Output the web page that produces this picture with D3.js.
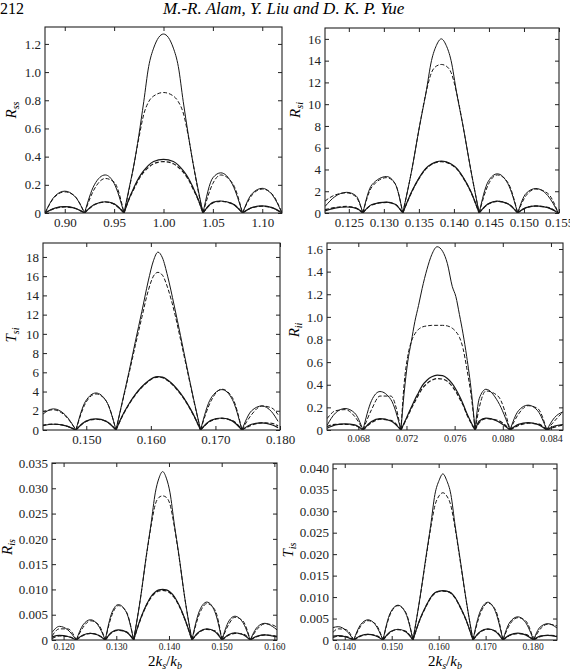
<!DOCTYPE html>
<html>
<head>
<meta charset="utf-8">
<script src="https://cdn.jsdelivr.net/npm/d3@7"></script>
<style>
  body { margin: 0; background: #fff; }
  svg { display: block; }
  svg text { font-family: "Liberation Serif", "Times New Roman", serif; }
</style>
</head>
<body>
<svg id="fig" width="570" height="671"></svg>
<script>
// ---- panel (a): R_ss ----
var ssX = [0.88, 0.89, 0.90, 0.91, 0.92, 0.93, 0.941, 0.95, 0.96, 0.965, 0.97, 0.975, 0.98, 0.985, 0.99, 1.00,
  1.01, 1.015, 1.02, 1.025, 1.03, 1.035, 1.04, 1.05, 1.058, 1.07, 1.08, 1.09, 1.10, 1.11, 1.12];
var ssSolid = [0, 0.12, 0.155, 0.12, 0, 0.2, 0.27, 0.21, 0, 0.17, 0.34, 0.55, 0.79, 1.04, 1.17, 1.27,
  1.17, 1.04, 0.79, 0.56, 0.35, 0.17, 0, 0.25, 0.285, 0.2, 0, 0.14, 0.175, 0.13, 0];
var ssDashed = [0, 0.115, 0.15, 0.12, 0, 0.17, 0.245, 0.22, 0, 0.16, 0.34, 0.53, 0.70, 0.79, 0.83, 0.855,
  0.83, 0.79, 0.71, 0.55, 0.35, 0.16, 0, 0.21, 0.27, 0.21, 0, 0.13, 0.17, 0.135, 0];
var ssSolidLow = [0, 0.035, 0.045, 0.035, 0, 0.06, 0.08, 0.065, 0, 0.1, 0.18, 0.25, 0.30, 0.34, 0.365, 0.38,
  0.365, 0.34, 0.30, 0.25, 0.18, 0.1, 0, 0.075, 0.085, 0.065, 0, 0.04, 0.05, 0.038, 0];
var ssDashedLow = [0, 0.033, 0.043, 0.034, 0, 0.058, 0.078, 0.063, 0, 0.096, 0.17, 0.24, 0.29, 0.325, 0.35, 0.365,
  0.35, 0.325, 0.29, 0.24, 0.17, 0.096, 0, 0.072, 0.083, 0.065, 0, 0.038, 0.048, 0.037, 0];
var ssXTicks = [0.90, 0.95, 1.00, 1.05, 1.10];
var ssYTicks = [0, 0.2, 0.4, 0.6, 0.8, 1.0, 1.2];

// ---- panel (b): R_si ----
var siX = [0.1216, 0.1230, 0.1247, 0.1260, 0.1270, 0.1283, 0.1304, 0.1316, 0.1327, 0.1340, 0.1351, 0.1360, 0.1368,
  0.1375, 0.1382, 0.1389, 0.1396, 0.1404, 0.1413, 0.1424, 0.1436, 0.1449, 0.1462, 0.1477, 0.1491, 0.1503, 0.1517,
  0.1534, 0.1549];
var siSolid = [0.6, 1.5, 1.9, 1.6, 0, 2.6, 3.35, 2.7, 0, 4, 8, 11, 14, 15.4, 16.0, 15.4, 14, 11, 8, 4, 0,
  2.9, 3.6, 2.7, 0, 1.8, 2.25, 1.6, 0];
var siDashed = [1.1, 1.65, 1.85, 1.5, 0, 2.4, 3.25, 2.7, 0, 4, 8, 11, 12.9, 13.5, 13.65, 13.5, 12.9, 11, 8, 4, 0,
  2.6, 3.5, 2.8, 0, 1.6, 2.2, 1.8, 0];
var siSolidLow = [0.2, 0.45, 0.55, 0.45, 0, 0.78, 1.0, 0.8, 0, 2.0, 3.3, 4.1, 4.5, 4.7, 4.78, 4.7, 4.5, 4.1, 3.3, 2.0, 0,
  0.85, 1.1, 0.85, 0, 0.5, 0.65, 0.5, 0];
var siDashedLow = [0.3, 0.5, 0.6, 0.45, 0, 0.75, 0.97, 0.8, 0, 1.95, 3.25, 4.05, 4.45, 4.65, 4.72, 4.65, 4.45, 4.05, 3.25,
  1.95, 0, 0.82, 1.07, 0.85, 0, 0.48, 0.63, 0.52, 0];
var siXTicks = [0.125, 0.130, 0.135, 0.140, 0.145, 0.150, 0.155];
var siYTicks = [0, 2, 4, 6, 8, 10, 12, 14, 16];

// ---- panel (c): T_si ----
var tsiX = [0.1432, 0.1449, 0.1467, 0.1484, 0.1499, 0.1515, 0.1531, 0.1546, 0.1556, 0.1566, 0.1576, 0.1586, 0.1596,
  0.1604, 0.1611, 0.1618, 0.1626, 0.1636, 0.1646, 0.1656, 0.1666, 0.1677, 0.1693, 0.1710, 0.1726, 0.1741, 0.1756,
  0.1772, 0.1787, 0.1797];
var tsiSolid = [1.6, 2.2, 1.6, 0, 3.0, 3.85, 3.0, 0, 3.0, 6.0, 9.2, 12.3, 15.5, 17.6, 18.5, 17.9, 16.0, 13.0, 9.8, 6.5,
  3.3, 0, 3.3, 4.2, 3.2, 0, 2.0, 2.5, 1.9, 0.9];
var tsiDashed = [1.9, 2.1, 1.5, 0, 2.8, 3.75, 3.0, 0, 2.9, 5.8, 8.8, 11.7, 14.5, 16.0, 16.4, 16.1, 14.8, 12.4, 9.4, 6.3,
  3.2, 0, 3.0, 4.25, 3.4, 0, 1.6, 2.5, 2.3, 1.6];
var tsiSolidLow = [0.45, 0.6, 0.45, 0, 0.9, 1.15, 0.9, 0, 1.5, 2.7, 3.7, 4.5, 5.1, 5.45, 5.55, 5.5, 5.2, 4.6, 3.8, 2.8,
  1.6, 0, 1.0, 1.25, 0.95, 0, 0.6, 0.75, 0.55, 0.25];
var tsiDashedLow = [0.5, 0.62, 0.45, 0, 0.87, 1.12, 0.9, 0, 1.45, 2.65, 3.65, 4.45, 5.05, 5.4, 5.5, 5.45, 5.15, 4.55,
  3.75, 2.75, 1.55, 0, 0.95, 1.2, 1.0, 0, 0.5, 0.75, 0.7, 0.45];
var tsiXTicks = [0.150, 0.160, 0.170, 0.180];
var tsiYTicks = [0, 2, 4, 6, 8, 10, 12, 14, 16, 18];

// ---- panel (d): R_ii ----
var iiX = [0.0654, 0.0661, 0.0669, 0.0677, 0.06839, 0.0691, 0.0698, 0.0707, 0.07154, 0.0718, 0.0721, 0.0724, 0.0727,
  0.0730, 0.0733, 0.0737, 0.0741, 0.07455, 0.0750, 0.0754, 0.0758, 0.0761, 0.0764, 0.0767, 0.0770, 0.0774, 0.0777,
  0.07805, 0.0786, 0.0796, 0.0806, 0.0813, 0.0821, 0.0829, 0.08365, 0.0843, 0.0850];
var iiSolid = [0.04, 0.15, 0.19, 0.15, 0, 0.26, 0.34, 0.27, 0, 0.32, 0.6, 0.78, 0.96, 1.1, 1.25, 1.42, 1.55, 1.62,
  1.58, 1.47, 1.27, 1.18, 1.02, 0.85, 0.65, 0.33, 0, 0.28, 0.36, 0.25, 0, 0.17, 0.22, 0.17, 0, 0.11, 0.16];
var iiDashed = [0.1, 0.17, 0.18, 0.12, 0, 0.18, 0.30, 0.3, 0, 0.4, 0.65, 0.78, 0.85, 0.89, 0.91, 0.92, 0.925, 0.925,
  0.925, 0.92, 0.9, 0.87, 0.82, 0.72, 0.55, 0.28, 0, 0.2, 0.345, 0.3, 0, 0.14, 0.215, 0.19, 0, 0.08, 0.16];
var iiSolidLow = [0.015, 0.045, 0.055, 0.045, 0, 0.075, 0.1, 0.08, 0, 0.06, 0.13, 0.2, 0.27, 0.33, 0.39, 0.44, 0.47,
  0.485, 0.48, 0.455, 0.41, 0.36, 0.3, 0.23, 0.15, 0.06, 0, 0.08, 0.105, 0.075, 0, 0.05, 0.065, 0.05, 0, 0.035, 0.048];
var iiDashedLow = [0.03, 0.05, 0.05, 0.04, 0, 0.065, 0.095, 0.085, 0, 0.055, 0.12, 0.19, 0.25, 0.31, 0.365, 0.41, 0.44,
  0.455, 0.45, 0.43, 0.385, 0.34, 0.28, 0.22, 0.14, 0.055, 0, 0.065, 0.1, 0.085, 0, 0.04, 0.06, 0.055, 0, 0.025, 0.045];
var iiXTicks = [0.068, 0.072, 0.076, 0.080, 0.084];
var iiYTicks = [0, 0.2, 0.4, 0.6, 0.8, 1.0, 1.2, 1.4, 1.6];

// ---- panel (e): R_is ----
var isX = [0.1178, 0.1192, 0.1208, 0.12241, 0.1237, 0.1251, 0.1265, 0.12791, 0.1292, 0.1304, 0.1319, 0.13329, 0.1346,
  0.1357, 0.1366, 0.1374, 0.1381, 0.1388, 0.1395, 0.1402, 0.1410, 0.1419, 0.1430, 0.14436, 0.1458, 0.1472, 0.1487,
  0.15005, 0.1514, 0.1525, 0.1540, 0.15542, 0.1568, 0.1582, 0.1596, 0.1605];
var isSolid = [0.0015, 0.0027, 0.002, 0, 0.003, 0.004, 0.003, 0, 0.0055, 0.007, 0.0055, 0, 0.0083, 0.0167, 0.023,
  0.0291, 0.032, 0.0333, 0.032, 0.0291, 0.023, 0.0167, 0.0083, 0, 0.0058, 0.0075, 0.0056, 0, 0.0038, 0.0047, 0.0035,
  0, 0.0026, 0.0033, 0.0027, 0.002];
var isDashed = [0.0008, 0.0022, 0.0022, 0, 0.0025, 0.0038, 0.0032, 0, 0.005, 0.0068, 0.0056, 0, 0.0083, 0.0165,
  0.0225, 0.0268, 0.0282, 0.0285, 0.0282, 0.0268, 0.0225, 0.0165, 0.0083, 0, 0.0052, 0.0072, 0.006, 0, 0.0032, 0.0045,
  0.0038, 0, 0.0022, 0.0032, 0.003, 0.0025];
var isSolidLow = [0.0006, 0.0009, 0.0007, 0, 0.001, 0.0013, 0.001, 0, 0.0016, 0.002, 0.0016, 0, 0.0042, 0.0069,
  0.0086, 0.0095, 0.0099, 0.010, 0.0099, 0.0095, 0.0086, 0.0069, 0.0042, 0, 0.0017, 0.0022, 0.0017, 0, 0.0011, 0.0014,
  0.0011, 0, 0.0008, 0.001, 0.0008, 0.0006];
var isDashedLow = [0.0003, 0.0008, 0.0007, 0, 0.0009, 0.0013, 0.001, 0, 0.0015, 0.0019, 0.0016, 0, 0.0041, 0.0068,
  0.0084, 0.0093, 0.0097, 0.0098, 0.0097, 0.0093, 0.0084, 0.0068, 0.0041, 0, 0.0016, 0.0021, 0.0018, 0, 0.001, 0.0013,
  0.0012, 0, 0.0007, 0.001, 0.0009, 0.0007];
var isXTicks = [0.120, 0.130, 0.140, 0.150, 0.160];
var isYTicks = [0, 0.005, 0.010, 0.015, 0.020, 0.025, 0.030, 0.035];

// ---- panel (f): T_is ----
var tisX = [0.1375, 0.1386, 0.1403, 0.14191, 0.1434, 0.14495, 0.1465, 0.14815, 0.1497, 0.15134, 0.1530, 0.15453,
  0.1560, 0.1573, 0.1583, 0.1592, 0.1601, 0.1609, 0.1617, 0.1626, 0.1635, 0.1645, 0.1658, 0.1673, 0.1689, 0.17049,
  0.1721, 0.17368, 0.1752, 0.17687, 0.1785, 0.18021, 0.1816, 0.18326, 0.1852];
var tisSolid = [0.0029, 0.0031, 0.0022, 0, 0.0036, 0.0047, 0.0036, 0, 0.0063, 0.0081, 0.0062, 0, 0.0097, 0.0194,
  0.0267, 0.0339, 0.0372, 0.0387, 0.0372, 0.0339, 0.0267, 0.0194, 0.0097, 0, 0.0068, 0.0088, 0.0066, 0, 0.0042, 0.0054,
  0.0041, 0, 0.003, 0.0038, 0.0028];
var tisDashed = [0.0018, 0.0026, 0.0024, 0, 0.0032, 0.0045, 0.0038, 0, 0.006, 0.008, 0.0064, 0, 0.0096, 0.019,
  0.026, 0.0313, 0.0336, 0.0343, 0.0336, 0.0313, 0.026, 0.019, 0.0096, 0, 0.0062, 0.0086, 0.007, 0, 0.0037, 0.0052,
  0.0045, 0, 0.0025, 0.0037, 0.0033];
var tisSolidLow = [0.0009, 0.001, 0.0007, 0, 0.001, 0.0013, 0.001, 0, 0.0019, 0.0025, 0.0019, 0, 0.0048, 0.0079,
  0.0099, 0.011, 0.0114, 0.0115, 0.0114, 0.011, 0.0099, 0.0079, 0.0048, 0, 0.002, 0.0026, 0.002, 0, 0.0012, 0.0016,
  0.0012, 0, 0.0009, 0.0011, 0.0008];
var tisDashedLow = [0.0006, 0.0009, 0.0008, 0, 0.0009, 0.0013, 0.0011, 0, 0.0018, 0.0024, 0.002, 0, 0.0047, 0.0078,
  0.0098, 0.0109, 0.0113, 0.0114, 0.0113, 0.0109, 0.0098, 0.0078, 0.0047, 0, 0.0019, 0.0025, 0.0021, 0, 0.0011, 0.0015,
  0.0013, 0, 0.0008, 0.0011, 0.001];
var tisXTicks = [0.140, 0.150, 0.160, 0.170, 0.180];
var tisYTicks = [0, 0.005, 0.010, 0.015, 0.020, 0.025, 0.030, 0.035, 0.040];

// ---- layout ----
function fmt(n) { return function(d) { return d === 0 ? "0" : d.toFixed(n); }; }

var panels = [
  { id: "a", box: [45, 282, 27, 213], xDom: [0.88, 1.12], yDom: [0, 1.32], xs: ssX,
    ys: [ssSolid, ssDashed, ssSolidLow, ssDashedLow], xt: ssXTicks, yt: ssYTicks,
    xf: fmt(2), yf: fmt(1), xfs: 13, xpad: 5, sym: "R", sub: "ss", lab: [11, 110] },
  { id: "b", box: [325, 559, 28, 213], xDom: [0.1216, 0.155], yDom: [0, 17], xs: siX,
    ys: [siSolid, siDashed, siSolidLow, siDashedLow], xt: siXTicks, yt: siYTicks,
    xf: fmt(3), yf: fmt(0), xfs: 13, xpad: 5, sym: "R", sub: "si", lab: [295, 110] },
  { id: "c", box: [43, 280, 243, 430], xDom: [0.1433, 0.180], yDom: [0, 19.45], xs: tsiX,
    ys: [tsiSolid, tsiDashed, tsiSolidLow, tsiDashedLow], xt: tsiXTicks, yt: tsiYTicks,
    xf: fmt(3), yf: fmt(0), xfs: 13, xpad: 5, sym: "T", sub: "si", lab: [11, 335] },
  { id: "d", box: [327, 563, 243, 430], xDom: [0.0654, 0.0850], yDom: [0, 1.653], xs: iiX,
    ys: [iiSolid, iiDashed, iiSolidLow, iiDashedLow], xt: iiXTicks, yt: iiYTicks,
    xf: fmt(3), yf: fmt(1), xfs: 10, xpad: 5, sym: "R", sub: "ii", lab: [294, 330] },
  { id: "e", box: [52, 277, 463, 640], xDom: [0.1178, 0.1605], yDom: [0, 0.035], xs: isX,
    ys: [isSolid, isDashed, isSolidLow, isDashedLow], xt: isXTicks, yt: isYTicks,
    xf: fmt(3), yf: fmt(3), xfs: 9.5, xpad: 3, sym: "R", sub: "is", lab: [7, 547], xtitle: [165, 666] },
  { id: "f", box: [333, 557, 464, 640], xDom: [0.1375, 0.1852], yDom: [0, 0.041], xs: tisX,
    ys: [tisSolid, tisDashed, tisSolidLow, tisDashedLow], xt: tisXTicks, yt: tisYTicks,
    xf: fmt(3), yf: fmt(3), xfs: 9.5, xpad: 3, sym: "T", sub: "is", lab: [288, 550], xtitle: [445, 666] }
];

// solid, dashed, solid (low), dashed (low)
var styles = [
  { dash: null, w: 1.0 },
  { dash: "4,2", w: 1.0 },
  { dash: null, w: 1.2 },
  { dash: "4,2", w: 1.2 }
];

var svg = d3.select("#fig");
var serif = "'Liberation Serif', 'Times New Roman', serif";

// running head
svg.append("text").attr("x", 0).attr("y", 14).attr("font-size", 16).attr("font-family", serif).text("212");
svg.append("text").attr("x", 163).attr("y", 14).attr("font-size", 17).attr("font-style", "italic")
  .attr("font-family", serif).text("M.-R. Alam, Y. Liu and D. K. P. Yue");

// cut a series into lobes at its zeros so the cusps stay sharp
function lobes(pts) {
  var out = [], cur = [];
  pts.forEach(function(p) {
    cur.push(p);
    if (p[1] === 0 && cur.length > 1) { out.push(cur); cur = [p]; }
  });
  if (cur.length > 1) out.push(cur);
  return out;
}

panels.forEach(function(p) {
  var L = p.box[0], R = p.box[1], T = p.box[2], B = p.box[3];
  var x = d3.scaleLinear().domain(p.xDom).range([L, R]);
  var y = d3.scaleLinear().domain(p.yDom).range([B, T]);
  var g = svg.append("g");

  g.append("clipPath").attr("id", "clip-" + p.id)
    .append("rect").attr("x", L).attr("y", T).attr("width", R - L).attr("height", B - T);

  var line = d3.line().x(function(d) { return x(d[0]); }).y(function(d) { return y(d[1]); })
    .curve(d3.curveMonotoneX);

  var curves = g.append("g").attr("clip-path", "url(#clip-" + p.id + ")");
  p.ys.forEach(function(vals, i) {
    var pts = d3.zip(p.xs, vals);
    curves.append("path")
      .attr("d", lobes(pts).map(function(s) { return line(s); }).join(""))
      .attr("fill", "none")
      .attr("stroke", "#161616")
      .attr("stroke-width", styles[i].w)
      .attr("stroke-dasharray", styles[i].dash);
  });

  // axes, ticks pointing inward on all four sides
  var bottom = g.append("g").attr("transform", "translate(0," + B + ")")
    .call(d3.axisBottom(x).tickValues(p.xt).tickFormat(p.xf).tickSize(-4).tickSizeOuter(0).tickPadding(p.xpad));
  var left = g.append("g").attr("transform", "translate(" + L + ",0)")
    .call(d3.axisLeft(y).tickValues(p.yt).tickFormat(p.yf).tickSize(-4).tickSizeOuter(0).tickPadding(4));
  g.append("g").attr("transform", "translate(0," + T + ")")
    .call(d3.axisTop(x).tickValues(p.xt).tickFormat("").tickSize(-4).tickSizeOuter(0));
  g.append("g").attr("transform", "translate(" + R + ",0)")
    .call(d3.axisRight(y).tickValues(p.yt).tickFormat("").tickSize(-4).tickSizeOuter(0));

  g.selectAll(".domain").remove();
  g.selectAll(".tick line").attr("stroke", "#222");
  bottom.selectAll("text").attr("font-family", serif).attr("font-size", p.xfs).attr("fill", "#222");
  left.selectAll("text").attr("font-family", serif).attr("font-size", 13).attr("fill", "#222");

  g.append("rect").attr("x", L).attr("y", T).attr("width", R - L).attr("height", B - T)
    .attr("fill", "none").attr("stroke", "#222").attr("stroke-width", 1.1);

  // y label, rotated
  var yl = g.append("text")
    .attr("transform", "translate(" + p.lab[0] + "," + p.lab[1] + ") rotate(-90)")
    .attr("text-anchor", "middle").attr("dy", "0.3em").attr("font-size", 15)
    .attr("font-style", "italic").attr("font-family", serif);
  yl.append("tspan").text(p.sym);
  yl.append("tspan").attr("font-size", 10).attr("dy", 3).text(p.sub);

  if (p.xtitle) {
    var xl = g.append("text").attr("x", p.xtitle[0]).attr("y", p.xtitle[1])
      .attr("text-anchor", "middle").attr("font-size", 15).attr("font-family", serif);
    xl.append("tspan").text("2");
    xl.append("tspan").attr("font-style", "italic").text("k");
    xl.append("tspan").attr("font-style", "italic").attr("font-size", 10).attr("dy", 3).text("s");
    xl.append("tspan").attr("dy", -3).text("/");
    xl.append("tspan").attr("font-style", "italic").text("k");
    xl.append("tspan").attr("font-style", "italic").attr("font-size", 10).attr("dy", 3).text("b");
  }
});
</script>
</body>
</html>
